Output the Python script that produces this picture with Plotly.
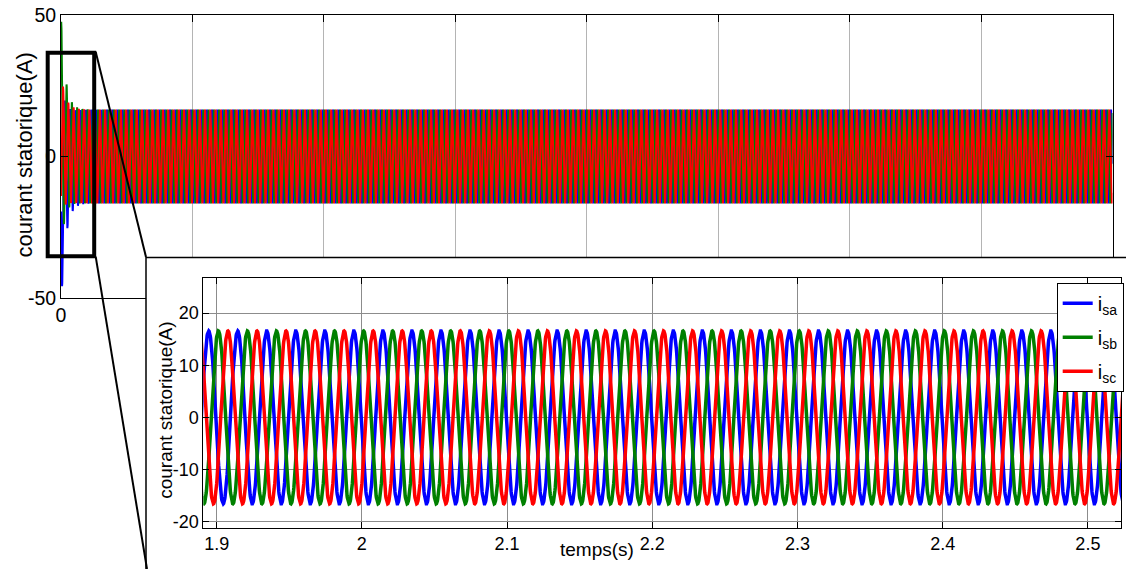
import numpy as np
import plotly.graph_objects as go

# ---------------- values ----------------
phase_labels = ["i<sub>sa</sub>", "i<sub>sb</sub>", "i<sub>sc</sub>"]
phase_colors = ["#0000ff", "#008000", "#ff0000"]
steady_amp_A = [16.6, 16.6, 16.6]          # steady crest value of each phase
peak_time_s = [1.8945, 1.9012, 1.9078]     # a crest instant of each phase (inset)
supply_freq_Hz = 50.0
start_extra_amp_A = [25.0, 25.0, 8.0]      # extra crest amplitude at start-up
start_offset_A = [-13.0, 8.0, 5.0]         # start-up offset of each phase
transient_tau_s = 0.015
offset_tau_s = 0.02
sim_end_s = 4.0
sample_step_s = 0.0002

main_x_labelled_ticks = [0]
main_x_labels = ["0"]
main_x_hidden_ticks = [0.5, 1, 1.5, 2, 2.5, 3, 3.5, 4]   # labels hidden behind the zoom frame
main_y_ticks = [-50, 0, 50]
main_y_labels = ["-50", "0", "50"]
inset_x_ticks = [1.9, 2.0, 2.1, 2.2, 2.3, 2.4, 2.5]
inset_x_labels = ["1.9", "2", "2.1", "2.2", "2.3", "2.4", "2.5"]
inset_y_ticks = [-20, -10, 0, 10, 20]
inset_y_labels = ["-20", "-10", "0", "10", "20"]
main_y_range = [-50, 50]
main_x_range = [0, 4]
inset_x_range = [1.8908, 2.5228]
inset_y_range = [-21.2, 26.7]

W, H = 1126, 569


def px_x(p):
    return p / W


def px_y(p):
    return 1 - p / H


t = np.arange(0.0, sim_end_s + 1e-9, sample_step_s)


def phase_current(k, tt):
    env = steady_amp_A[k] + start_extra_amp_A[k] * np.exp(-tt / transient_tau_s)
    return (env * np.cos(2 * np.pi * supply_freq_Hz * (tt - peak_time_s[k]))
            + start_offset_A[k] * np.exp(-tt / offset_tau_s))


currents = [phase_current(k, t) for k in range(3)]
mask = (t >= inset_x_range[0] - 0.005) & (t <= inset_x_range[1] + 0.005)

fig = go.Figure()

# main overview
for k in range(3):
    fig.add_trace(go.Scatter(x=t, y=currents[k], mode="lines", xaxis="x", yaxis="y",
                             line=dict(color=phase_colors[k], width=2),
                             showlegend=False, hoverinfo="skip"))
# white frame behind the zoomed view
fig.add_trace(go.Scatter(x=[None], y=[None], xaxis="x2", yaxis="y2",
                         showlegend=False, hoverinfo="skip"))
# zoomed view
for k in range(3):
    fig.add_trace(go.Scatter(x=t[mask], y=currents[k][mask], mode="lines",
                             xaxis="x3", yaxis="y3", name=phase_labels[k],
                             legendgroup="g%d" % k,
                             line=dict(color=phase_colors[k], width=3.5)))

font_family = "Liberation Sans, Arial, sans-serif"

common_axis = dict(showline=True, linecolor="black", linewidth=1, mirror="ticks",
                   ticks="inside", tickcolor="black", zeroline=False,
                   showgrid=True, automargin=False, tickmode="array")

fig.update_layout(
    width=W, height=H, autosize=False,
    margin=dict(l=0, r=0, t=0, b=0, pad=0),
    paper_bgcolor="white", plot_bgcolor="white",
    template="none",
    font=dict(family=font_family, color="black"),
    xaxis=dict(domain=[px_x(61), px_x(1112.5)], range=main_x_range, anchor="y",
               tickvals=main_x_labelled_ticks, ticktext=main_x_labels,
               gridcolor="#b4b4b4", gridwidth=1, ticklen=7,
               minor=dict(tickmode="array", tickvals=main_x_hidden_ticks,
                          showgrid=True, gridcolor="#b4b4b4", gridwidth=1,
                          ticks="inside", ticklen=7, tickcolor="black"),
               tickfont=dict(size=19.5), **common_axis),
    yaxis=dict(domain=[px_y(297.7), px_y(15.3)], range=main_y_range, anchor="x",
               tickvals=main_y_ticks, ticktext=main_y_labels,
               gridcolor="#b4b4b4", gridwidth=1, ticklen=7,
               tickfont=dict(size=19.5), **common_axis),
    xaxis2=dict(domain=[px_x(146), 1], range=[0, 1], anchor="y2", visible=False),
    yaxis2=dict(domain=[0, px_y(257.5)], range=[0, 1], anchor="x2", visible=False),
    xaxis3=dict(domain=[px_x(203.3), px_x(1121)], range=inset_x_range, anchor="y3",
                tickvals=inset_x_ticks, ticktext=inset_x_labels,
                gridcolor="#8c8c8c", gridwidth=1, ticklen=6,
                tickfont=dict(size=18), **common_axis),
    yaxis3=dict(domain=[px_y(527.7), px_y(278.3)], range=inset_y_range, anchor="x3",
                tickvals=inset_y_ticks, ticktext=inset_y_labels,
                gridcolor="#8c8c8c", gridwidth=1, ticklen=6,
                tickfont=dict(size=18), **common_axis),
    legend=dict(x=px_x(1056.7), y=px_y(282.7), xanchor="left", yanchor="top",
                bgcolor="white", bordercolor="black", borderwidth=1,
                font=dict(size=20, family=font_family), tracegroupgap=5),
    showlegend=True,
)

shapes = [
    # frame around the zoomed view
    dict(type="rect", xref="paper", yref="paper", x0=px_x(146), x1=px_x(1140),
         y0=px_y(580), y1=px_y(257.5), line=dict(color="black", width=1.5),
         layer="above"),
    # zoom rectangle on the overview
    dict(type="rect", xref="paper", yref="paper", x0=px_x(47.7), x1=px_x(94.2),
         y0=px_y(256.3), y1=px_y(52.8), line=dict(color="black", width=4),
         layer="above"),
    dict(type="line", xref="paper", yref="paper", x0=px_x(95.7), y0=px_y(51.7),
         x1=px_x(146), y1=px_y(257), line=dict(color="black", width=2), layer="above"),
    dict(type="line", xref="paper", yref="paper", x0=px_x(95.7), y0=px_y(256.7),
         x1=px_x(147), y1=px_y(569), line=dict(color="black", width=2), layer="above"),
]
fig.update_layout(shapes=shapes)

annotations = [
    dict(text="courant statorique(A)", textangle=-90, xref="paper", yref="paper",
         x=px_x(24), y=px_y(155.5), xanchor="center", yanchor="middle",
         showarrow=False, font=dict(size=22, family=font_family, color="black")),
    dict(text="courant statorique(A)", textangle=-90, xref="paper", yref="paper",
         x=px_x(166), y=px_y(410.8), xanchor="center", yanchor="middle",
         showarrow=False, font=dict(size=19, family=font_family, color="black")),
    dict(text="temps(s)", xref="paper", yref="paper",
         x=px_x(597), y=px_y(549), xanchor="center", yanchor="middle",
         showarrow=False, font=dict(size=19, family=font_family, color="black")),
]
fig.update_layout(annotations=annotations)

fig.write_html("out.html", config={"displayModeBar": False},
               post_script="document.body.style.margin='0';document.body.style.overflow='hidden';")
